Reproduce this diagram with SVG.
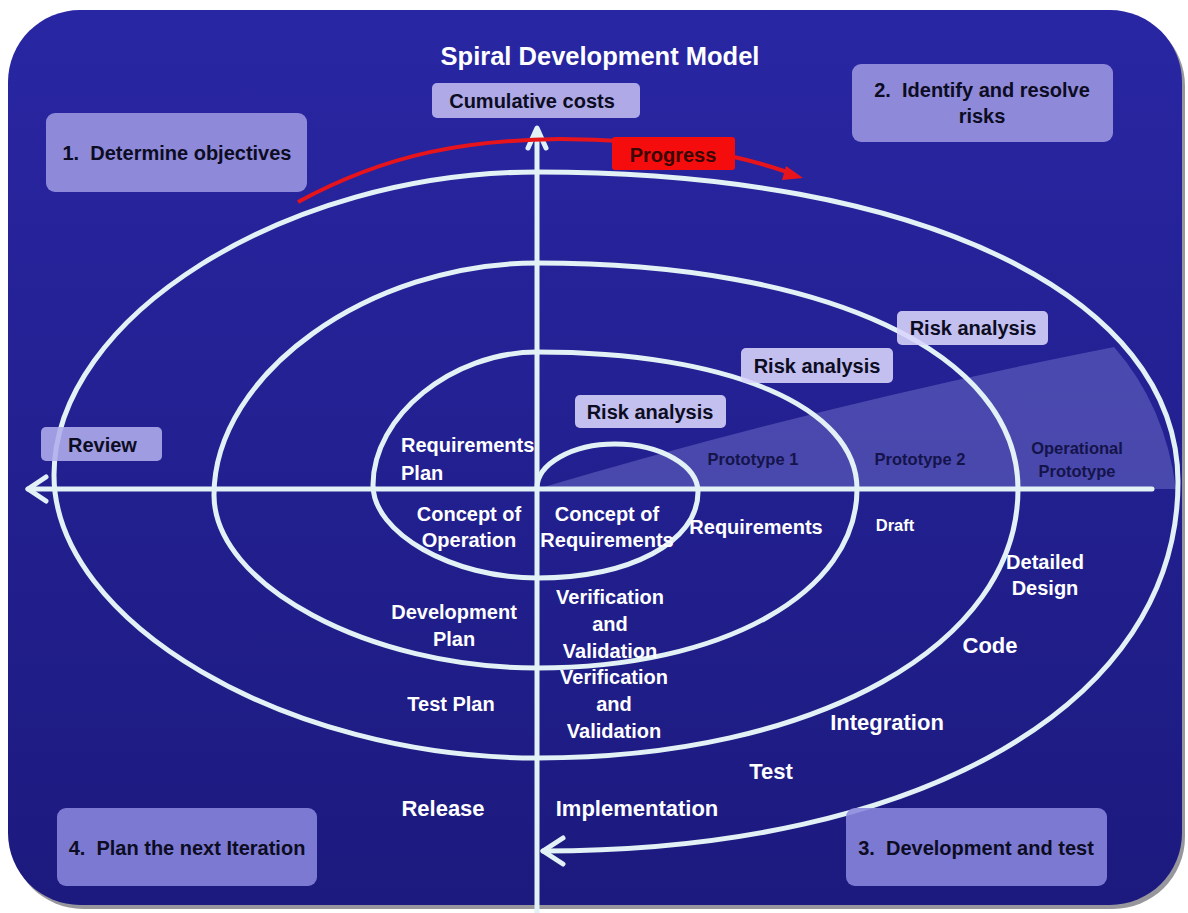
<svg xmlns="http://www.w3.org/2000/svg" width="1188" height="913" viewBox="0 0 1188 913">
<defs>
<linearGradient id="bg" x1="0" y1="0" x2="0" y2="1">
<stop offset="0" stop-color="#2926a3"/>
<stop offset="1" stop-color="#1c1a7e"/>
</linearGradient>
<style>
.t{font-family:"Liberation Sans",Arial,sans-serif;font-weight:bold}
.w{fill:#ffffff;text-anchor:middle}
.k{fill:#0c0c22;text-anchor:middle}
.p{fill:#14144a;text-anchor:middle}
.ln{fill:none;stroke:#e2f1f5;stroke-width:5;stroke-linecap:round;stroke-linejoin:round}
.bx{fill-opacity:0.88}
</style>
</defs>
<rect x="0" y="0" width="1188" height="913" fill="#ffffff"/>
<rect x="11" y="14" width="1174" height="895" rx="72" fill="#6a6a72" opacity="0.7"/>
<rect x="8" y="10" width="1174" height="895" rx="72" fill="url(#bg)"/>
<path id="wedge" d="M537,489 Q820,405 1114,347 Q1165,405 1176,489 Z" fill="#7a7ad0" opacity="0.45"/>
<g id="connectors">
<path id="spiral" class="ln" d="M537,488 C537,464 572,444 615,444 C661,444 698,466 698,492 C698,542 630,578 537,578 C452,578 373,533 373,485 C373,416 452,352 537,352 C729,352 857,407 857,489 C857,593 723,668 537,668 C369,668 214,585 214,495 C214,374 369,263 537,263 C826,263 1018,353 1018,489 C1018,645 816,758 537,758 C286,758 54,622 54,475 C54,317 286,172 537,172 C922,172 1178,296 1178,482 C1178,703 923,851 543,851"/>
<polyline class="ln" points="563,838 543,851 563,864"/>
<line class="ln" x1="537" y1="913" x2="537" y2="130"/>
<polyline class="ln" points="528,148 537,128 546,148"/>
<line class="ln" x1="1152" y1="489" x2="28" y2="489"/>
<polyline class="ln" points="46,477 28,489 46,501"/>
<path d="M298,202 C390,152 470,140 560,139 C660,139 740,155 790,173" fill="none" stroke="#e8141c" stroke-width="4"/>
<polygon points="803,178 786,166 782,180" fill="#e8141c"/>
</g>
<text class="t w" x="600" y="65" font-size="25.5">Spiral Development Model</text>
<g id="cumulative"><rect class="bx" x="432" y="83" width="208" height="35" rx="5" fill="#c1bcf0"/><text class="t k" x="532" y="108" font-size="20">Cumulative costs</text></g>
<g id="q1"><rect class="bx" x="46" y="113" width="261" height="79" rx="9" fill="#9d97e1"/><text class="t k" x="177" y="160" font-size="20">1.&#160; Determine objectives</text></g>
<g id="q2"><rect class="bx" x="852" y="64" width="261" height="78" rx="9" fill="#9d97e1"/><text class="t k" x="982" y="97" font-size="20">2.&#160; Identify and resolve</text><text class="t k" x="982" y="123" font-size="20">risks</text></g>
<g id="q3"><rect class="bx" x="846" y="808" width="261" height="78" rx="9" fill="#8a86de"/><text class="t k" x="976" y="855" font-size="20">3.&#160; Development and test</text></g>
<g id="q4"><rect class="bx" x="57" y="808" width="260" height="78" rx="9" fill="#8a86de"/><text class="t k" x="187" y="855" font-size="20">4.&#160; Plan the next Iteration</text></g>
<g id="progress"><rect x="612" y="137" width="123" height="33" rx="3" fill="#f50d0d"/><text class="t" x="673" y="162" font-size="20" fill="#3a0606" text-anchor="middle">Progress</text></g>
<g id="risk1"><rect class="bx" x="575" y="395" width="151" height="33" rx="5" fill="#d9d5fc"/><text class="t k" x="650" y="419" font-size="20">Risk analysis</text></g>
<g id="risk2"><rect class="bx" x="741" y="348" width="152" height="35" rx="5" fill="#d9d5fc"/><text class="t k" x="817" y="373" font-size="20">Risk analysis</text></g>
<g id="risk3"><rect class="bx" x="897" y="311" width="151" height="34" rx="5" fill="#d9d5fc"/><text class="t k" x="973" y="335" font-size="20">Risk analysis</text></g>
<g id="review"><rect class="bx" x="41" y="427" width="121" height="34" rx="5" fill="#b1adec"/><text class="t" x="68" y="452" font-size="20" fill="#0c0c22">Review</text></g>
<g id="req-plan"><text class="t" x="401" y="452" font-size="20" fill="#fff">Requirements</text><text class="t" x="401" y="480" font-size="20" fill="#fff">Plan</text></g>
<g id="concept-op"><text class="t w" x="469" y="521" font-size="20">Concept of</text><text class="t w" x="469" y="547" font-size="20">Operation</text></g>
<g id="concept-req"><text class="t w" x="607" y="521" font-size="20">Concept of</text><text class="t w" x="607" y="547" font-size="20">Requirements</text></g>
<g id="requirements"><text class="t w" x="756" y="534" font-size="20">Requirements</text></g>
<g id="proto1"><text class="t p" x="753" y="465" font-size="16.5">Prototype 1</text></g>
<g id="proto2"><text class="t p" x="920" y="465" font-size="16.5">Prototype 2</text></g>
<g id="proto-op"><text class="t p" x="1077" y="454" font-size="16.5">Operational</text><text class="t p" x="1077" y="477" font-size="16.5">Prototype</text></g>
<g id="draft"><text class="t w" x="895" y="531" font-size="16.5">Draft</text></g>
<g id="detailed"><text class="t w" x="1045" y="569" font-size="20">Detailed</text><text class="t w" x="1045" y="595" font-size="20">Design</text></g>
<g id="code"><text class="t w" x="990" y="653" font-size="22">Code</text></g>
<g id="integration"><text class="t w" x="887" y="730" font-size="22">Integration</text></g>
<g id="test"><text class="t w" x="771" y="779" font-size="22">Test</text></g>
<g id="implementation"><text class="t w" x="637" y="816" font-size="22">Implementation</text></g>
<g id="release"><text class="t w" x="443" y="816" font-size="22">Release</text></g>
<g id="test-plan"><text class="t w" x="451" y="711" font-size="20">Test Plan</text></g>
<g id="dev-plan"><text class="t w" x="454" y="619" font-size="20">Development</text><text class="t w" x="454" y="646" font-size="20">Plan</text></g>
<g id="vv1"><text class="t w" x="610" y="604" font-size="20">Verification</text><text class="t w" x="610" y="631" font-size="20">and</text><text class="t w" x="610" y="658" font-size="20">Validation</text></g>
<g id="vv2"><text class="t w" x="614" y="684" font-size="20">Verification</text><text class="t w" x="614" y="711" font-size="20">and</text><text class="t w" x="614" y="738" font-size="20">Validation</text></g>
</svg>
